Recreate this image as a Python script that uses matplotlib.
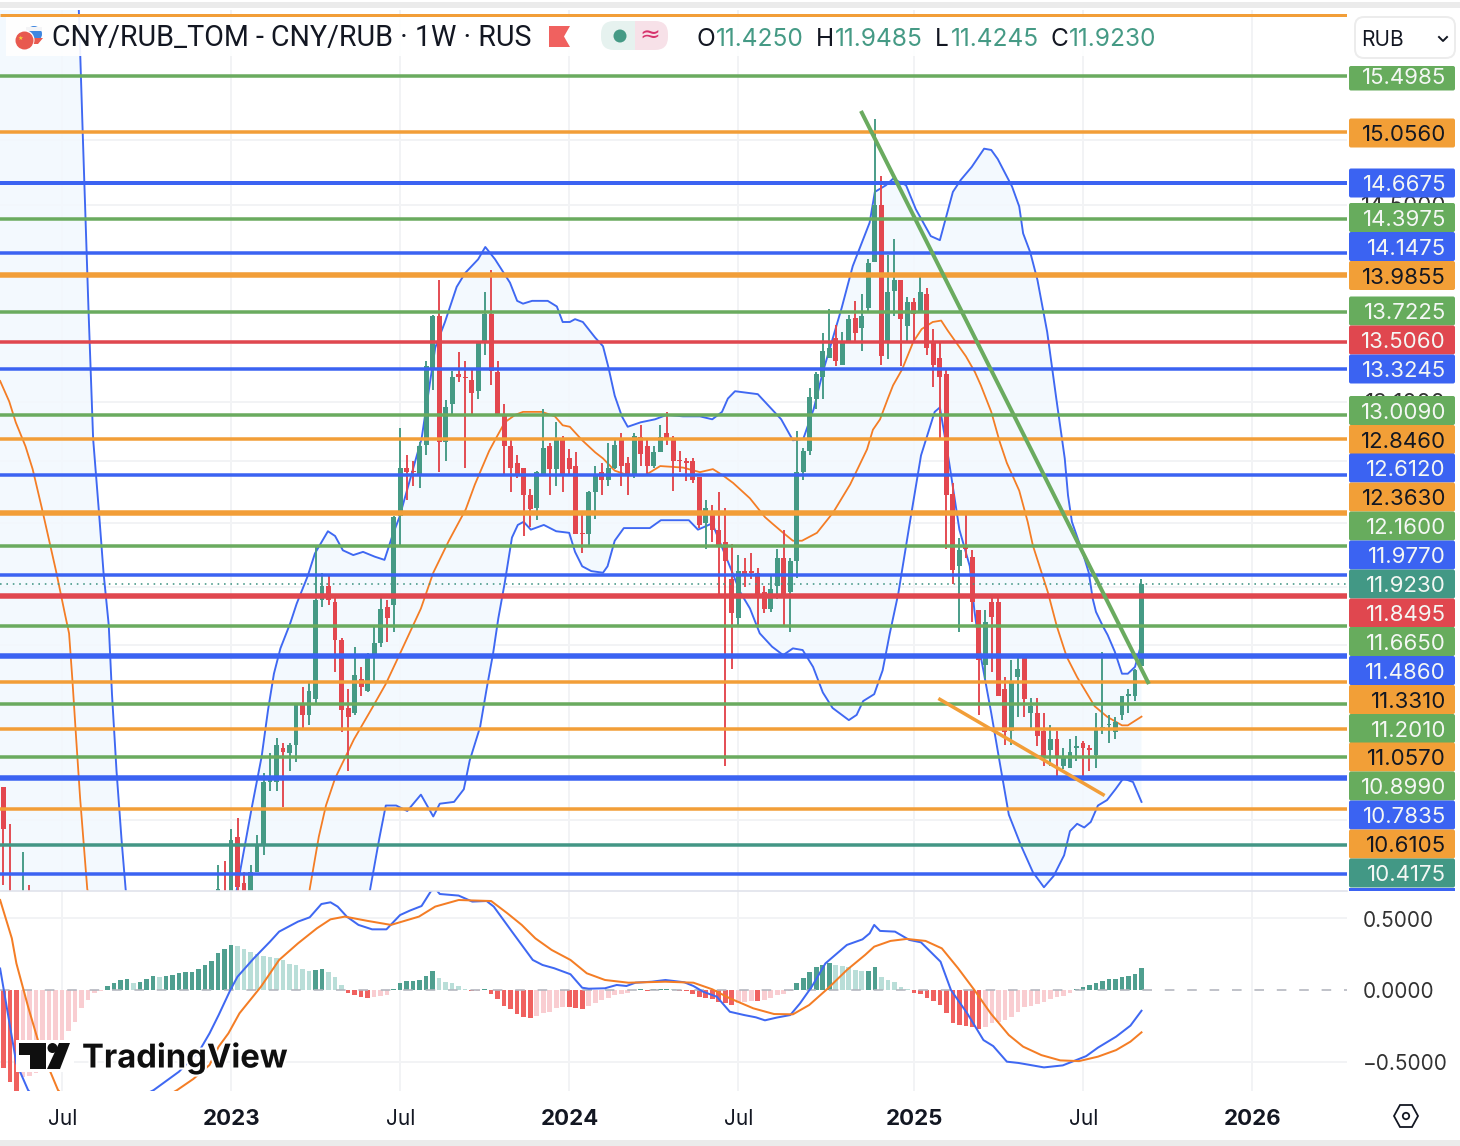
import matplotlib
matplotlib.use("Agg")
import matplotlib.pyplot as plt
import matplotlib.patheffects as pe
from matplotlib.patches import Rectangle, Circle, Polygon, FancyBboxPatch
import numpy as np

# ---------- candles ----------
weeks = [-35, -34, -32, -31, -2, -1] + list(range(0, 141))
opens = [10.73, 10.1, 9.9, 10.1, 9.95, 10.15,
 10.1,10.46,10.21,10.05,10.27,10.42,10.76,10.76,10.95,10.92,
 10.97,11.20,11.14,11.23,11.82,11.91,11.81,11.58,11.18,11.15,
 11.35,11.28,11.47,11.56,11.78,11.79,12.35,12.66,12.64,12.62,
 12.81,13.32,13.69,12.83,13.08,13.29,13.27,13.25,13.17,13.51,
 13.71,13.30,13.00,12.80,12.69,12.66,12.48,12.40,12.62,12.80,
 12.65,12.85,12.72,12.67,12.24,12.23,12.50,12.63,12.58,12.66,
 12.84,12.69,12.61,12.86,12.80,12.67,12.76,12.89,12.85,12.71,
 12.70,12.70,12.60,12.30,12.38,12.26,12.18,11.95,11.71,12.00,
 12.00,11.99,11.87,11.77,11.91,12.08,11.87,12.06,12.63,12.77,
 13.12,13.27,13.40,13.54,13.35,13.51,13.68,13.61,13.75,14.08,
 14.50,13.51,13.87,13.95,13.62,13.79,13.72,13.85,13.51,13.40,
 13.29,12.49,12.03,12.16,12.09,11.76,11.43,11.81,11.81,11.29,
 11.05,11.36,11.47,11.15,11.15,11.05,10.94,11.00,10.85,10.84,
 10.95,10.98,10.95,10.91,11.06,11.08,11.04,11.14,11.25,11.25,11.425]
highs = [10.73, 10.53, 10.38, 10.20, 10.31, 10.33,
 10.50,10.56,10.27,10.31,10.47,10.81,10.92,11.01,10.98,10.98,
 11.21,11.30,11.33,12.15,11.99,11.97,11.86,11.59,11.29,11.54,
 11.42,11.50,11.66,11.86,11.82,12.35,12.92,12.74,12.70,12.83,
 13.38,13.70,13.95,13.11,13.31,13.44,13.38,13.32,13.51,13.86,
 14.02,13.38,13.08,12.85,12.74,12.66,12.52,12.64,13.05,12.82,
 12.96,12.87,12.78,12.76,12.38,12.51,12.67,12.69,12.82,12.85,
 12.89,12.73,12.89,12.94,12.84,12.80,12.94,13.03,12.87,12.77,
 12.72,12.72,12.60,12.45,12.42,12.50,12.40,12.17,12.10,12.08,
 12.11,12.02,11.91,11.97,12.14,12.26,12.08,12.90,12.79,13.19,
 13.30,13.57,13.74,13.63,13.58,13.70,13.80,13.85,14.10,15.16,
 14.72,14.13,14.25,13.95,13.83,13.82,13.99,13.89,13.60,13.51,
 13.32,12.56,12.21,12.36,12.13,11.76,11.76,11.85,11.85,11.36,
 11.46,11.48,11.48,11.24,11.24,11.15,11.08,11.05,10.95,11.00,
 11.02,10.99,10.97,11.15,11.51,11.14,11.13,11.25,11.29,11.41,11.9485]
lows = [10.2, 9.8, 9.8, 9.8, 9.9, 9.9,
 10.0,10.05,10.0,10.0,10.27,10.36,10.71,10.71,10.62,10.82,
 10.87,11.06,11.08,11.21,11.78,11.79,11.39,11.04,10.82,11.14,
 11.25,11.27,11.33,11.54,11.57,11.63,12.16,12.45,12.54,12.53,
 12.74,13.18,12.63,12.70,13.00,13.23,12.66,13.00,13.12,13.42,
 13.21,13.00,12.62,12.50,12.59,12.22,12.28,12.32,12.62,12.48,
 12.54,12.50,12.62,12.23,12.11,12.16,12.33,12.48,12.54,12.65,
 12.54,12.48,12.59,12.67,12.62,12.66,12.76,12.81,12.51,12.63,
 12.57,12.56,12.27,12.14,12.18,11.86,10.85,11.41,11.66,11.90,
 11.95,11.67,11.74,11.75,11.83,11.67,11.63,11.96,12.58,12.74,
 13.05,13.12,13.40,13.34,13.35,13.51,13.51,13.45,13.72,14.08,
 13.35,13.39,13.69,13.34,13.51,13.51,13.72,13.42,13.20,12.85,
 12.14,11.92,11.63,12.08,11.69,11.14,11.35,11.39,11.25,10.97,
 10.97,11.13,11.13,11.06,10.96,10.85,10.85,10.78,10.83,10.84,
 10.88,10.79,10.82,10.84,11.03,10.98,11.00,11.11,11.15,11.22,11.4245]
closes = [10.50, 9.9, 10.1, 9.9, 10.18, 10.0,
 10.44,10.19,10.05,10.27,10.42,10.76,10.77,10.97,10.93,10.97,
 11.20,11.14,11.28,11.82,11.91,11.82,11.58,11.17,11.13,11.37,
 11.30,11.47,11.56,11.77,11.71,12.34,12.66,12.63,12.63,12.80,
 13.34,13.69,12.83,13.06,13.27,13.27,13.26,13.16,13.50,13.71,
 13.31,13.00,12.80,12.66,12.61,12.48,12.39,12.63,12.79,12.65,
 12.85,12.61,12.65,12.23,12.23,12.50,12.62,12.58,12.66,12.81,
 12.67,12.61,12.87,12.75,12.67,12.76,12.86,12.84,12.70,12.70,
 12.69,12.58,12.29,12.40,12.26,12.16,12.06,11.74,12.00,11.98,
 11.99,11.86,11.77,11.89,12.08,11.86,12.06,12.63,12.77,13.13,
 13.29,13.45,13.47,13.38,13.51,13.67,13.57,13.69,14.07,14.50,
 13.41,13.86,13.95,13.67,13.79,13.71,13.86,13.47,13.35,13.27,
 12.48,12.01,12.13,12.14,11.81,11.46,11.69,11.72,11.25,11.04,
 11.33,11.41,11.23,11.19,11.02,10.90,11.00,10.90,10.90,10.93,
 10.96,10.95,10.94,11.06,11.07,11.09,11.10,11.25,11.26,11.40,11.923]

# ---------- Bollinger bands ----------
upper_w = [-36.3,-24,-23.4,-22.8,-21.9,-21.2,-20.3,-19.6,-18.8,-18.3,-17.6,-16.8,-16.2,-12.5,-4,-1,0.9,3.2,4.7,5.7,6.6,7.6,9.1,10.1,11.8,12.9,14.9,16,17.2,18.8,20.3,22.1,23.6,24.8,25.9,29.3,31.4,32.9,34.7,36,38,39.1,40.6,42.9,44,44.9,46.3,48.7,50.1,51,52.1,52.9,54.1,56,57.2,58,59,60.1,61,63,65.2,67,69.5,72.1,74,75.5,76.4,77.5,81,84.6,86.4,88,89.6,91,93.9,95.6,98.2,99,100.7,101.8,103.8,105.3,107.6,109,111,112.2,113.9,115.8,116.9,117.9,120.1,121.2,121.8,122.9,124,125.5,126.9,128.2,128.7,129.3,131,131.9,132.5,133,134.1,134.8,135.9,137,137.9,139,140]
upper_p = [18.8,16.89,16.04,15.05,13.72,12.85,12.37,11.99,11.67,11.26,10.82,10.43,10.18,9.3,9.0,9.8,10.18,10.62,10.90,11.17,11.38,11.53,11.68,11.80,11.97,12.11,12.25,12.22,12.13,12.10,12.12,12.09,12.07,12.22,12.34,12.85,13.47,13.65,13.90,14.00,14.10,14.19,14.10,13.93,13.80,13.78,13.80,13.80,13.76,13.65,13.65,13.67,13.65,13.54,13.48,13.34,13.14,13.00,12.93,12.96,12.98,13.01,13.00,13.00,12.98,13.03,13.12,13.17,13.15,12.98,12.84,12.85,13.05,13.30,13.75,14.05,14.37,14.60,14.65,14.70,14.65,14.47,14.27,14.24,14.60,14.69,14.79,14.93,14.92,14.85,14.64,14.49,14.29,14.15,13.95,13.58,13.12,12.72,12.48,12.31,12.11,11.99,11.83,11.75,11.66,11.61,11.51,11.38,11.38,11.42,11.56]
lower_w = [-36.3,-20,0,15,19,21.4,22.8,23.8,25.4,27.1,29.2,31.1,32.1,34.3,35.8,36.7,38.3,39.3,40.3,41.1,42.1,43.2,44.1,45,46.1,48.1,50,52,52.9,54,55.4,57.2,57.9,59,60.4,64.4,66.1,70.4,71.8,74,76.7,78.3,79.8,81.3,83.2,84.9,86.4,87.9,89.5,91,92.5,95,96.2,97.2,98.9,100.2,101.3,102.6,104.4,106.1,108.2,109,110.4,112,113.6,114.3,115.3,116.9,118.2,119.6,121.5,123.3,125,126.5,128.1,129,130.1,131.2,132.2,133.3,134.7,136,137.2,138.7,140]
lower_p = [8.8,8.5,8.7,9.2,9.7,10.18,10.45,10.63,10.63,10.60,10.69,10.57,10.64,10.65,10.72,10.88,11.07,11.29,11.50,11.71,11.93,12.21,12.29,12.31,12.26,12.29,12.25,12.24,12.12,12.03,12.00,11.99,12.03,12.19,12.27,12.27,12.32,12.32,12.26,12.30,12.03,11.87,11.77,11.62,11.54,11.49,11.53,11.52,11.42,11.27,11.18,11.11,11.14,11.22,11.26,11.40,11.62,11.86,12.31,12.74,13.03,13.06,12.70,12.26,12.03,11.76,11.48,11.15,10.87,10.58,10.41,10.27,10.19,10.25,10.36,10.49,10.53,10.51,10.54,10.63,10.66,10.72,10.78,10.76,10.65]
basis_w = [-35.5,-34.1,-33.1,-31.6,-30.5,-29.1,-26.9,-25.5,-24.9,-24.4,-23.8,-23.2,-22.6,-22.1,-15,0,10,12.1,13.5,14.6,16,18.9,21.7,23.8,26,29.2,31.1,33.5,36.1,37.5,39.7,40.7,42.1,43.7,44.9,47.8,49.8,51,52.1,54,56,57.2,59,61,63.7,66,69.5,72.1,74.1,75.6,77.2,79.8,82.1,83.2,84.9,86.4,87.8,90.1,92.6,95.2,97.8,98.7,99.8,101,101.8,103.2,104.9,106.2,107.9,109.2,110.2,113,114.4,115.3,116.9,118.2,119.3,121.2,122.5,123.3,125.6,127,128.5,130.1,132.8,134.7,137,137.9,140]
basis_p = [13.24,13.10,12.96,12.80,12.65,12.40,12.00,11.73,11.62,11.35,11.00,10.67,10.40,10.18,9.4,9.0,9.5,10.18,10.46,10.63,10.78,11.00,11.18,11.32,11.50,11.77,11.99,12.19,12.39,12.55,12.77,12.85,12.96,13.01,13.03,13.03,13.00,12.94,12.93,12.84,12.76,12.72,12.64,12.61,12.61,12.67,12.66,12.63,12.65,12.61,12.56,12.46,12.34,12.30,12.24,12.19,12.19,12.24,12.37,12.55,12.78,12.91,12.98,13.12,13.21,13.32,13.51,13.60,13.65,13.66,13.59,13.41,13.30,13.21,13.03,12.83,12.69,12.51,12.31,12.16,11.87,11.66,11.48,11.36,11.19,11.13,11.08,11.08,11.13]

# ---------- horizontal levels ----------
level_prices = [16.0,15.4985,15.056,14.6675,14.3975,14.1475,13.9855,13.7225,13.506,13.3245,13.009,12.846,12.612,12.363,12.16,11.977,11.8495,11.665,11.486,11.331,11.201,11.057,10.899,10.7835,10.6105,10.4175,10.26]
level_kinds = ['o','g','o','b','g','b','o','g','r','b','g','o','b','o','g','b','r','g','b','o','g','o','g','b','o','t','b']
level_px = [3,3.5,3.5,4,3.5,3.5,5.5,3.5,3.5,3.5,3.5,3.5,3.5,5.5,3.5,3.5,5.5,3.5,5.5,3.5,3.5,3.5,3.5,5.5,3.5,3.5,3.5]
trend_green_w = [97.0, 141.0]
trend_green_p = [15.21, 11.33]
trend_orange_w = [109.0, 134.1]
trend_orange_p = [11.23, 10.69]
last_price = 11.923

# ---------- price labels ----------
tag_texts = ['15.4985','15.0560','14.6675','14.3975','14.1475','13.9855','13.7225','13.5060','13.3245','13.0090','12.8460','12.6120','12.3630','12.1600','11.9770','11.9230','11.8495','11.6650','11.4860','11.3310','11.2010','11.0570','10.8990','10.7835','10.6105','10.4175']
tag_kinds = ['g','o','b','g','b','o','g','r','b','g','o','b','o','g','b','t','r','g','b','o','g','o','g','b','o','t']
tag_y = [76,133,183,217.5,246.5,275.5,311,340,369,410.5,439.5,468,497,526,555,584,613,641.5,670.5,699.5,728.5,757,786,815,844,873]

# ---------- MACD ----------
hist_start = -35
hist = [-.548,-.641,-.72,-.606,-.6,-.58,-.57,-.42,-.373,-.35,-.284,-.226,-.124,-.07,-.019,-.005,
 .028,.051,.07,.075,.051,.058,.077,.098,.093,.098,.105,.117,.126,.126,.147,.175,.203,.256,.284,
 .315,.308,.287,.268,.252,.24,.233,.221,.21,.182,.175,.147,.135,.14,.145,.128,.093,.035,
 -.019,-.035,-.047,-.054,-.047,-.042,-.035,.007,.047,.063,.063,.07,.098,.133,.082,.056,.047,.028,.009,
 -.007,-.005,.005,-.03,-.065,-.11,-.135,-.168,-.186,-.198,-.18,-.158,-.152,-.124,-.117,-.117,-.128,-.133,
 -.11,-.089,-.07,-.054,-.035,-.028,-.023,-.002,.005,-.005,.005,.009,.01,.004,-.004,-.01,-.028,-.047,-.054,-.063,-.082,-.093,
 -.105,-.093,-.086,-.075,-.075,-.07,-.054,-.035,-.03,-.005,.047,.082,.128,.159,.175,.186,.175,.168,.163,.14,.133,.135,.159,.093,.07,.054,.019,.005,
 -.019,-.028,-.058,-.077,-.105,-.163,-.233,-.247,-.249,-.256,-.275,-.256,-.233,-.226,-.21,-.191,-.152,-.117,-.11,-.098,-.082,-.065,-.051,-.04,-.019,
 .005,.019,.033,.051,.063,.075,.079,.093,.098,.112,.154]
macd_w = [-35.5,-33,-31.2,-25,-11.9,-8,-4.8,-3.3,-1.9,-0.1,1,3.5,6,7.4,10.3,12.1,13.9,15.3,16.4,17.8,19.6,21.7,23.9,26,27.5,29.3,30.7,31.4,32.1,35,37.1,39.3,40.4,43.2,46.4,47.9,49.7,52.2,54,55,57.5,59.3,60.8,62.2,64.7,66.8,69.7,71.1,72.6,74.7,76.7,78.9,80.7,82.1,83.9,86,87.5,89.3,91.4,94.7,97.1,98.2,98.9,99.8,102.1,104.3,106.1,109.1,110.7,113.2,115.7,117.2,119.3,121.1,125,127.9,131.5,133.3,136.1,138.3,140]
macd_v = [.15,-.513,-.70,-1.0,-.70,-.571,-.42,-.303,-.175,0,.093,.221,.338,.408,.478,.508,.601,.613,.583,.513,.455,.424,.424,.524,.555,.587,.688,.71,.671,.66,.618,.622,.583,.408,.21,.175,.152,.11,.016,.009,.012,.035,.028,.051,.058,.07,.054,.028,-.012,-.047,-.152,-.175,-.191,-.212,-.193,-.175,-.093,.023,.186,.315,.354,.396,.455,.413,.408,.35,.333,.198,0,-.163,-.35,-.392,-.501,-.51,-.541,-.527,-.462,-.403,-.326,-.249,-.145]
signal_w = [-35.5,-33.7,-33,-31.2,-29.4,-26.6,-20,-8.3,-5.8,-3.3,-1.9,-0.4,1.3,4.6,7.4,10.3,13.2,15.3,17.5,21,24.6,28.9,31.4,35,40,42.5,44.7,46.8,49.3,52.2,54.7,57.5,61.1,66.8,71.1,74,76.7,80.3,83.5,86.4,88.9,91.8,94.7,97.5,98.9,101.4,103.9,106.8,109.3,111.8,114.3,116.8,119.6,121.8,124.6,127.5,130.4,133.3,136.1,138.3,140]
signal_v = [.629,.361,.186,-.117,-.396,-.70,-1.0,-.70,-.622,-.524,-.396,-.303,-.163,.023,.21,.326,.431,.494,.513,.483,.455,.513,.583,.629,.622,.536,.455,.361,.28,.21,.117,.07,.051,.058,.051,.005,-.058,-.128,-.168,-.17,-.105,.012,.14,.245,.303,.343,.357,.343,.291,.152,0,-.163,-.315,-.396,-.455,-.492,-.497,-.466,-.42,-.361,-.296]

# ---------- axis text ----------
x_ticks = [-26, 0, 26, 52, 78, 105, 131, 157]
x_labels = ['Jul','2023','Jul','2024','Jul','2025','Jul','2026']
price_grid = [15,14.5,14,13.5,13.1,12.7,12.3,11.9,11.55,11.2,10.9,10.55]

# ---------- colours / layout ----------
W, H = 1460, 1146
COL = {'g':'#6aab5f','o':'#f29e38','b':'#3b63f2','r':'#e0474f','t':'#439685'}
TAGC = {'g':'#67ac5d','o':'#f29f37','b':'#3b63f2','r':'#e0474f','t':'#429885'}
UP, DOWN = '#459a85', '#e3474f'
BLUE, ORANGE = '#3f68f2', '#f47d25'
px = 0.72
FONT = 'Inter'
plt.rcParams['font.family'] = [FONT, 'DejaVu Sans']

fig = plt.figure(figsize=(W/100, H/100), dpi=100, facecolor='white')
def add_px_axes(x0, y0, x1, y1):
    return fig.add_axes([x0/W, 1-y1/H, (x1-x0)/W, (y1-y0)/H])
XLIM = (-35.52, 171.6)

# price pane
ax = add_px_axes(0, 10, 1347, 890.5)
ax.set_yscale('log')
ax.set_xlim(XLIM); ax.set_ylim(10.173, 16.04)
ax.axis('off')
ax.patch.set_visible(False)
for t in x_ticks:
    ax.axvline(t, color='#f2f3f5', lw=1.4, zorder=0)
for g in price_grid:
    ax.axhline(g, color='#f2f3f5', lw=1.4, zorder=0)
ax.fill(np.r_[upper_w, lower_w[::-1]], np.r_[upper_p, lower_p[::-1]], color='#f2f8fe', lw=0, zorder=1, alpha=.85)
ax.plot(upper_w, upper_p, color=BLUE, lw=1.9*px, zorder=2)
ax.plot(lower_w, lower_p, color=BLUE, lw=1.9*px, zorder=2)
ax.plot(basis_w, basis_p, color=ORANGE, lw=1.8*px, zorder=2)
candle_colors = [UP if c >= o else DOWN for o, c in zip(opens, closes)]
ax.vlines(weeks, lows, highs, colors=candle_colors, lw=1.9*px, zorder=3)
ax.bar(weeks, np.abs(np.array(closes)-np.array(opens)), bottom=np.minimum(opens, closes),
       width=0.75, color=candle_colors, lw=0, zorder=3)
for p, k, w in zip(level_prices, level_kinds, level_px):
    ax.axhline(p, color=COL[k], lw=w*px, zorder=4, solid_capstyle='butt')
ax.axhline(last_price, color=COL['t'], lw=1.6*px, ls=(0, (1, 3)), zorder=4)
ax.plot(trend_green_w, trend_green_p, color=COL['g'], lw=4*px, zorder=5)
ax.plot(trend_orange_w, trend_orange_p, color=COL['o'], lw=3.5*px, zorder=5)

# MACD pane
ax2 = add_px_axes(0, 891, 1347, 1091)
ax2.set_xlim(XLIM); ax2.set_ylim(-0.706, 0.692)
ax2.axis('off')
for t in x_ticks:
    ax2.axvline(t, color='#f2f3f5', lw=1.4, zorder=0)
for g in (-.5, .5):
    ax2.axhline(g, color='#f2f3f5', lw=1.4, zorder=0)
hist_x = hist_start + np.arange(len(hist))
hist_c = []
prev = hist[0]
for v in hist:
    if v >= 0:
        hist_c.append('#4f9f8f' if v >= prev else '#b9ded8')
    else:
        hist_c.append('#f0615f' if v <= prev else '#f9cdd1')
    prev = v
ax2.bar(hist_x, hist, width=0.72, color=hist_c, lw=0, zorder=1)
ax2.axhline(0, color='#b2b5be', lw=1.6*px, ls=(0, (6, 8)), zorder=2)
ax2.plot(macd_w, macd_v, color=BLUE, lw=2*px, zorder=3)
ax2.plot(signal_w, signal_v, color=ORANGE, lw=2*px, zorder=3)

# overlay in pixel coordinates
ov = add_px_axes(0, 0, W, H)
ov.set_xlim(0, W); ov.set_ylim(H, 0); ov.axis('off'); ov.patch.set_visible(False)
ov.add_patch(Rectangle((0, 2), W, 6, color='#ebebeb', lw=0))
ov.add_patch(Rectangle((0, 1140), W, 6, color='#ebebeb', lw=0))
ov.plot([0, 1347], [891, 891], color='#e0e3eb', lw=1.2)

# legend strip
ov.add_patch(Rectangle((6, 17), 1180, 39, color='white', alpha=.92, lw=0))
ov.add_patch(Circle((34, 34), 8, color='#3f86e0', lw=0))
ov.add_patch(Polygon([(26,27),(42,27),(42,31),(26,31)], color='#f4f4f6', lw=0))
ov.add_patch(Polygon([(28,38),(43,38),(38,44),(30,44)], color='#e85a50', lw=0))
ov.add_patch(Circle((24.5, 40), 10, color='white', lw=0))
ov.add_patch(Circle((24.5, 40.5), 9, color='#e8594f', lw=0))
ov.text(20, 38, '★', color='#f5d33b', fontsize=4.5, ha='center', va='center', family='DejaVu Sans')
ov.text(52, 38.5, 'CNY/RUB_TOM - CNY/RUB · 1W · RUS', fontsize=20.6, color='#131722', va='center', ha='left', family='Roboto')
ov.add_patch(Polygon([(549,26),(570,26),(564,36.5),(570,47),(549,47)], color='#f0615f', lw=0))
ov.add_patch(FancyBboxPatch((601,21),34,29,boxstyle='round,pad=0,rounding_size=13', color='#e6f2ef', lw=0))
ov.add_patch(FancyBboxPatch((635,21),33,29,boxstyle='round,pad=0,rounding_size=13', color='#f7e1e8', lw=0))
ov.add_patch(Rectangle((620,21),15,29, color='#e6f2ef', lw=0))
ov.add_patch(Rectangle((635,21),15,29, color='#f7e1e8', lw=0))
ov.add_patch(Circle((620, 36), 6.5, color='#459a85', lw=0))
ov.text(650, 35.5, '≈', fontsize=18, color='#d6336c', ha='center', va='center', family='DejaVu Sans')
for lx, lab, vx, val in [(696,'O',716,'11.4250'),(816,'H',835,'11.9485'),(935,'L',951,'11.4245'),(1051,'C',1069,'11.9230')]:
    ov.text(lx, 39, lab, fontsize=17.6, color='#131722', va='center')
    ov.text(vx, 39, val, fontsize=17.6, color='#459a85', va='center')

# select box
ov.add_patch(Rectangle((1347, 10), 113, 881, color='white', lw=0, zorder=1))
ov.add_patch(FancyBboxPatch((1355,17),100,41,boxstyle='round,pad=0,rounding_size=9', fc='white', ec='#ececec', lw=1.4, zorder=2))
ov.text(1361, 40, 'RUB', fontsize=15, color='#131722', va='center', zorder=6)
ov.plot([1439,1443,1447], [37,41,37], color='#131722', lw=1.4, zorder=6)

# hidden scale ticks peeping out between tags
for ty, tt in [(206,'14.5000'),(403,'13.1000'),(140,'15.0000')]:
    ov.text(1446, ty, tt, fontsize=16, color='#333333', ha='right', va='center', zorder=2)

for txt, k, y in zip(tag_texts, tag_kinds, tag_y):
    top = max(y-14.5, 66)
    ov.add_patch(FancyBboxPatch((1349, top), 106, y+14.5-top, boxstyle='round,pad=0,rounding_size=2', color=TAGC[k], lw=0, zorder=4))
    ov.text(1446, y+2.2, txt, fontsize=16, color='#131722' if k == 'o' else '#f4f7f4', ha='right', va='center', zorder=5)
ov.add_patch(Rectangle((1349, 888), 106, 3, color=TAGC['b'], lw=0, zorder=4))

# MACD scale labels
for yy, tt in [(919,'0.5000'),(990,'0.0000'),(1062,'−0.5000')]:
    ov.text(1363, yy+2, tt, fontsize=15, color='#333333', ha='left', va='center')

# time axis labels
for t, lab in zip(x_ticks, x_labels):
    xp = (t-XLIM[0])/(XLIM[1]-XLIM[0])*1347
    bold = lab.isdigit()
    ov.text(xp+0.5, 1119, lab, fontsize=16 if bold else 15, fontweight='bold' if bold else 'normal',
            color='#131722', ha='center', va='center')

# settings hexagon
ov.add_patch(Polygon([(1394,1116),(1400,1105),(1412,1105),(1418,1116),(1412,1127),(1400,1127)], fc='white', ec='#131722', lw=1.3))
ov.add_patch(Circle((1406, 1116), 3.2, fc='white', ec='#131722', lw=1.3))

# TradingView logo
ov.add_patch(Rectangle((16,1040), 58, 32, color='white', lw=0))
ov.add_patch(Polygon([(19,1043),(46,1043),(46,1069),(30,1069),(30,1055),(19,1055)], color='#0f0f0f', lw=0))
ov.add_patch(Circle((52.5, 1048), 5, color='#0f0f0f', lw=0))
ov.add_patch(Polygon([(59,1043),(70,1043),(60,1069),(47,1069)], color='#0f0f0f', lw=0))
ov.text(82, 1058.5, 'TradingView', fontsize=23.6, fontweight='bold', color='#0f0f0f', va='center', ha='left',
        path_effects=[pe.withStroke(linewidth=3, foreground='white')])

fig.savefig('out.png', dpi=100, facecolor='white')
